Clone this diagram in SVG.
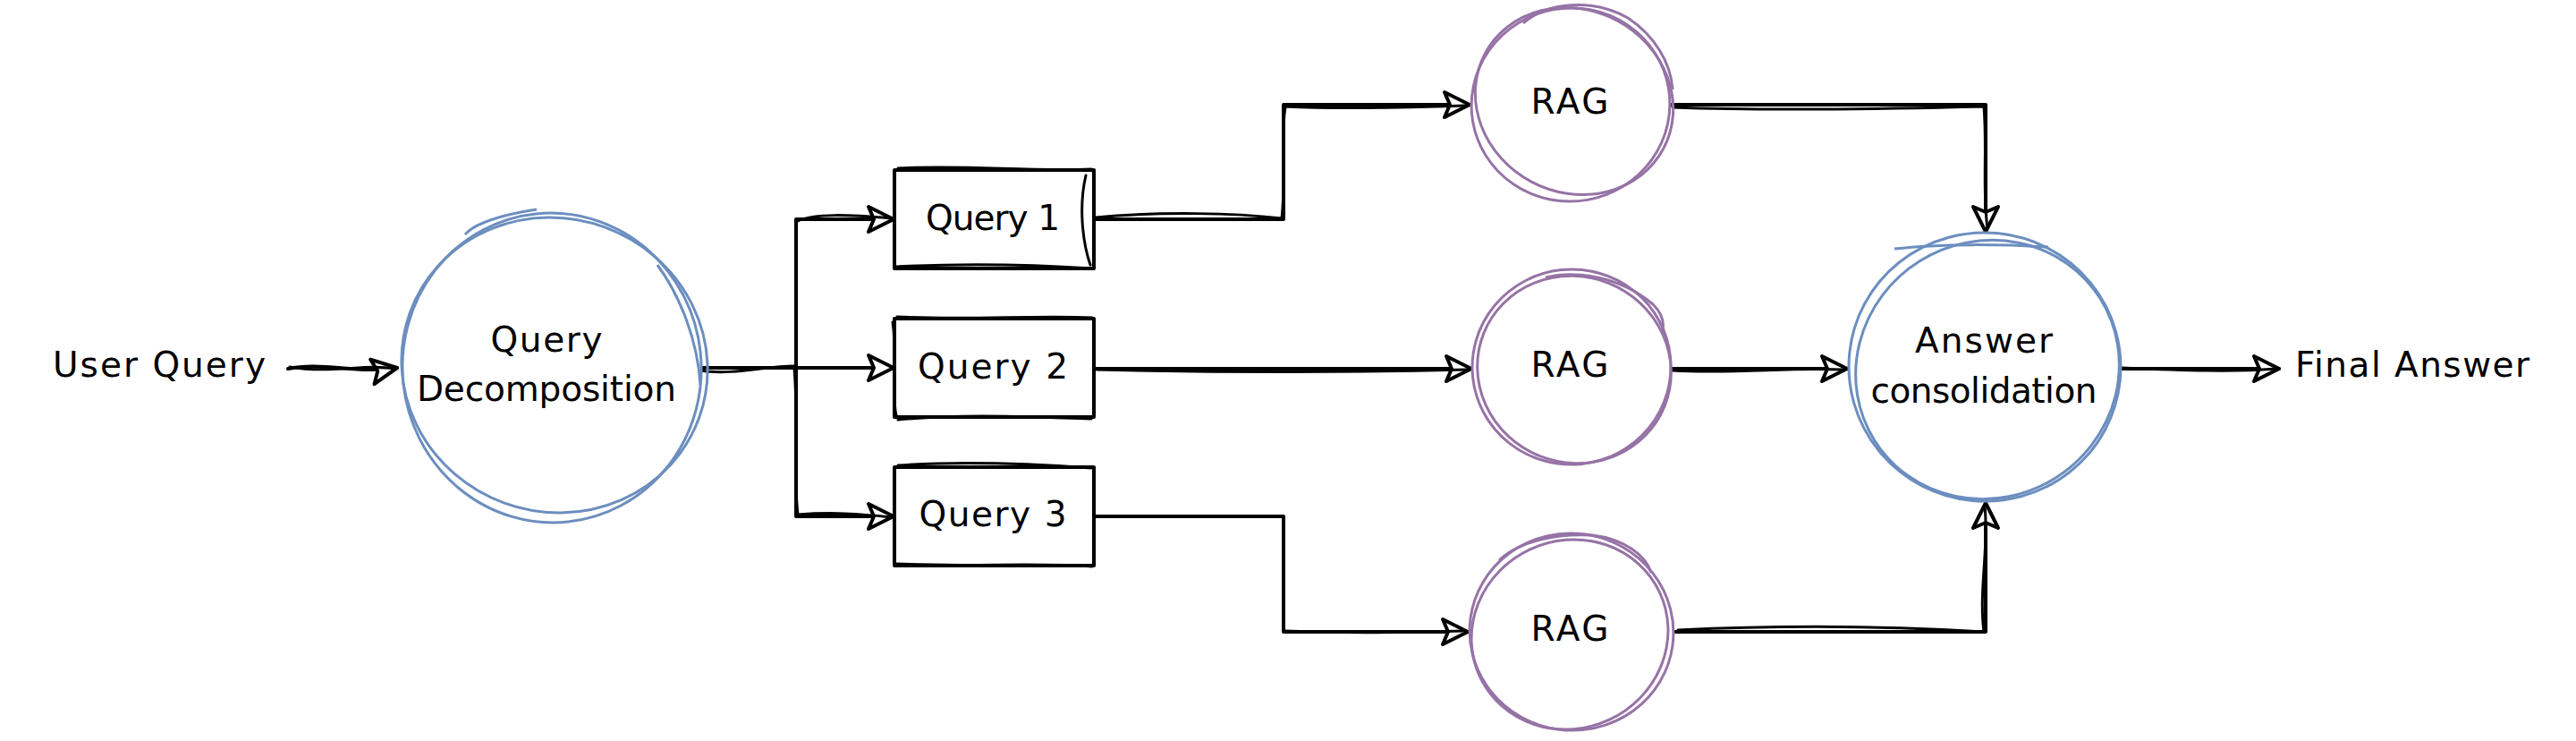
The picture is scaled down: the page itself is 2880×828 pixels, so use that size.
<svg xmlns="http://www.w3.org/2000/svg" width="2880" height="828" viewBox="0 0 2880 828">
<style>
.bg{fill:#ffffff}
.blue{fill:#ffffff;stroke:#6c8ebf;stroke-width:3}
.blue2{fill:none;stroke:#6c8ebf;stroke-width:3}
.purple{fill:#ffffff;stroke:#9673a6;stroke-width:3}
.purple2{fill:none;stroke:#9673a6;stroke-width:3}
.box{fill:#ffffff;stroke:#000000;stroke-width:4;stroke-linejoin:round}
.box2{fill:none;stroke:#000000;stroke-width:3;stroke-linecap:round}
.edge{fill:none;stroke:#000000;stroke-width:4;stroke-linejoin:round;stroke-linecap:round}
.edge2{fill:none;stroke:#000000;stroke-width:3;stroke-linecap:round}
text{font-family:"DejaVu Sans","Liberation Sans",sans-serif;font-size:39px;fill:#000000;text-anchor:middle}
</style>
<defs>
<marker id="arr" markerUnits="userSpaceOnUse" markerWidth="36" markerHeight="36" viewBox="0 0 36 36" refX="32" refY="18" orient="auto">
<path d="M4,4 L32,18 L4,32 L10,18 Z" fill="#ffffff" stroke="#000000" stroke-width="4" stroke-linejoin="round"/>
</marker>
</defs>
<rect class="bg" x="0" y="0" width="2880" height="828"/>

<g id="connectors">
<path class="edge" d="M322,412 C360,404 400,418 444,411" marker-end="url(#arr)"/>
<path class="edge2" d="M324,410 C370,418 410,406 440,412"/>
<path class="edge" d="M780,411 L890,411 L890,245 L999,245" marker-end="url(#arr)"/>
<path class="edge2" d="M892,247 C910,238 950,240 996,244"/>
<path class="edge" d="M780,411 L999,411" marker-end="url(#arr)"/>
<path class="edge2" d="M782,414 C820,420 860,408 890,409"/>
<path class="edge" d="M780,411 L890,411 L890,577 L999,577" marker-end="url(#arr)"/>
<path class="edge2" d="M888,411 C893,470 886,520 892,575 C930,572 960,574 996,578"/>
<path class="edge" d="M1223,245 L1435,245 L1435,117 L1643,117" marker-end="url(#arr)"/>
<path class="edge2" d="M1225,243 C1300,236 1380,238 1433,244 C1438,200 1431,160 1437,119 C1500,122 1580,120 1638,118"/>
<path class="edge" d="M1223,412 L1645,412" marker-end="url(#arr)"/>
<path class="edge2" d="M1226,413 C1400,417 1520,416 1640,413"/>
<path class="edge" d="M1223,577 L1435,577 L1435,706 L1641,706" marker-end="url(#arr)"/>
<path class="edge2" d="M1436,705 C1520,708 1580,707 1636,705"/>
<path class="edge" d="M1868,117 L2220,117 L2220,259" marker-end="url(#arr)"/>
<path class="edge2" d="M1870,120 C1980,124 2100,122 2218,119 C2222,170 2216,210 2222,255"/>
<path class="edge" d="M1868,412 L2065,412" marker-end="url(#arr)"/>
<path class="edge2" d="M1870,414 C1940,418 2000,410 2060,413"/>
<path class="edge" d="M1873,706 L2220,706 L2220,562" marker-end="url(#arr)"/>
<path class="edge2" d="M1876,704 C2000,698 2120,700 2218,706 C2212,660 2224,610 2219,566"/>
<path class="edge" d="M2371,412 L2548,412" marker-end="url(#arr)"/>
<path class="edge2" d="M2373,411 C2440,414 2500,416 2545,412"/>
</g>

<g id="user-query">
<text x="178" y="421" textLength="238">User Query</text>
</g>

<g id="query-decomposition">
<ellipse class="blue" cx="617" cy="411" rx="167" ry="173" transform="rotate(-6 617 411)"/>
<ellipse class="blue2" cx="620" cy="408" rx="172" ry="164" transform="rotate(20 620 408)"/>
<path class="blue2" d="M520,262 C530,250 560,240 600,234"/>
<path class="blue2" d="M735,296 C760,330 780,380 783,430"/>
<text x="611" y="393" textLength="125">Query</text>
<text x="611" y="448" textLength="290">Decomposition</text>
</g>

<g id="query1">
<rect class="box" x="1000" y="190" width="223" height="110"/>
<path class="box2" d="M1004,188 C1080,184 1150,192 1220,189 M1214,196 C1206,230 1210,270 1219,296 M1002,298 C1080,294 1160,296 1221,300"/>
<text x="1110" y="257" textLength="150">Query 1</text>
</g>

<g id="query2">
<rect class="box" x="1000" y="356" width="223" height="110"/>
<path class="box2" d="M1003,354 C1080,358 1160,352 1221,355 M998,360 C1004,400 996,440 1002,464 M1004,469 C1080,462 1150,466 1220,468"/>
<text x="1110" y="423" textLength="168">Query 2</text>
</g>

<g id="query3">
<rect class="box" x="1000" y="522" width="223" height="110"/>
<path class="box2" d="M1004,520 C1080,515 1150,518 1220,523 M1003,630 C1080,634 1160,628 1221,633"/>
<text x="1110" y="588" textLength="165">Query 3</text>
</g>

<g id="rag1">
<ellipse class="purple" cx="1756" cy="117" rx="111" ry="108" transform="rotate(-10 1756 117)"/>
<ellipse class="purple2" cx="1760" cy="113" rx="113" ry="102" transform="rotate(28 1760 113)"/>
<path class="purple2" d="M1703,26 C1730,2 1780,-2 1820,20 C1850,40 1868,70 1870,100"/>
<text x="1755" y="127" textLength="87">RAG</text>
</g>

<g id="rag2">
<ellipse class="purple" cx="1757" cy="410" rx="111" ry="109" transform="rotate(-6 1757 410)"/>
<ellipse class="purple2" cx="1760" cy="413" rx="109" ry="104" transform="rotate(22 1760 413)"/>
<path class="purple2" d="M1728,310 C1760,302 1810,308 1848,340 C1858,350 1862,360 1858,372"/>
<text x="1755" y="421" textLength="87">RAG</text>
</g>

<g id="rag3">
<ellipse class="purple" cx="1757" cy="706" rx="114" ry="110" transform="rotate(8 1757 706)"/>
<ellipse class="purple2" cx="1755" cy="709" rx="111" ry="105" transform="rotate(-25 1755 709)"/>
<path class="purple2" d="M1676,626 C1700,604 1740,596 1780,598 C1815,602 1840,620 1846,640"/>
<text x="1755" y="716" textLength="87">RAG</text>
</g>

<g id="answer-consolidation">
<ellipse class="blue" cx="2219" cy="410" rx="152" ry="150" transform="rotate(6 2219 410)"/>
<ellipse class="blue2" cx="2222" cy="413" rx="149" ry="143" transform="rotate(-32 2222 413)"/>
<path class="blue2" d="M2118,278 C2170,272 2240,273 2290,276"/>
<text x="2218" y="394" textLength="154">Answer</text>
<text x="2218" y="450" textLength="253">consolidation</text>
</g>

<g id="final-answer">
<text x="2697" y="421" textLength="262">Final Answer</text>
</g>
</svg>
